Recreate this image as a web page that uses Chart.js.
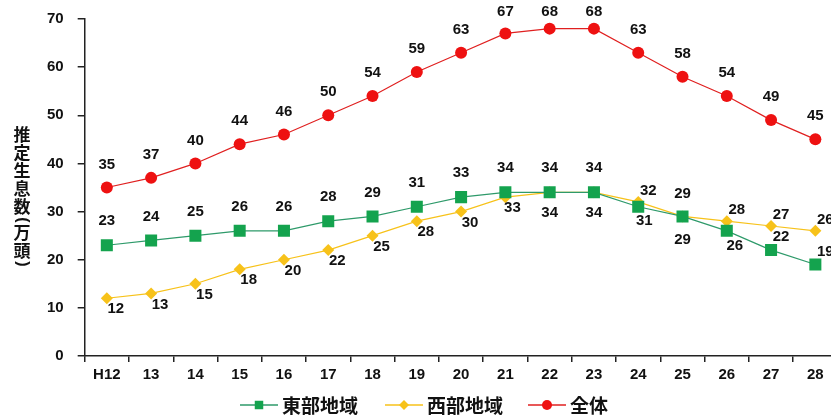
<!DOCTYPE html>
<html>
<head>
<meta charset="utf-8">
<script src="https://cdn.jsdelivr.net/npm/chart.js@4.4.1/dist/chart.umd.min.js"></script>
<style>
  html, body { margin: 0; padding: 0; background: #fff; overflow: hidden; }
  canvas { display: block; }
</style>
</head>
<body>
<canvas id="c" width="846" height="416"></canvas>
<script>
// Years (Heisei) on the horizontal axis
const years = ['H12','13','14','15','16','17','18','19','20','21','22','23','24','25','26','27','28'];
// Estimated population (10,000 head)
const eastRegion = [23,24,25,26,26,28,29,31,33,34,34,34,31,29,26,22,19];
const westRegion = [12,13,15,18,20,22,25,28,30,33,34,34,32,29,28,27,26];
const total      = [35,37,40,44,46,50,54,59,63,67,68,68,63,58,54,49,45];
const seriesNames = ['東部地域','西部地域','全体'];
const yTitle = '推定生息数(万頭)';

const GREEN = '#14a34e', YELLOW = '#f7c21a', RED = '#ee1111';
const labelFont = 'bold 15px "Liberation Sans", Arial, sans-serif';

// Where each value label sits relative to its marker
function labelOffset(di, i) {
  if (di === 2) return [0, -23];
  if (di === 0) {
    if (i <= 11) return [0, -24];
    if (i === 12) return [6, 14];
    if (i === 13) return [0, 23];
    if (i === 14) return [8, 15];
    return [10, -13];
  }
  // west
  if (i <= 8) return [9, 11];
  if (i === 9) return [7, 11];
  if (i <= 11) return [0, 21];
  if (i === 13) return [0, -23];
  return [10, -11];
}

const valueLabels = {
  id: 'valueLabels',
  afterDatasetsDraw(chart) {
    const ctx = chart.ctx;
    ctx.save();
    ctx.font = labelFont;
    ctx.fillStyle = '#111';
    ctx.textAlign = 'center';
    ctx.textBaseline = 'middle';
    chart.data.datasets.forEach((ds, di) => {
      const meta = chart.getDatasetMeta(di);
      meta.data.forEach((pt, i) => {
        const [dx, dy] = labelOffset(di, i);
        // keep labels inside the top edge of the canvas
        const ly = Math.max(pt.y + dy, 12);
        ctx.fillText(String(ds.data[i]), pt.x + dx, ly);
      });
    });
    ctx.restore();
  }
};

// Upright vertical axis title and line+marker legend
const decorations = {
  id: 'decorations',
  afterDraw(chart) {
    const ctx = chart.ctx;
    ctx.save();
    ctx.fillStyle = '#111';
    ctx.font = 'bold 17px "Noto Sans CJK JP", sans-serif';
    ctx.textAlign = 'center';
    ctx.textBaseline = 'middle';
    let y = 135;
    Array.from(yTitle).forEach((ch, k, arr) => {
      const paren = ch === '(' || ch === ')';
      if (paren) {
        // brackets turn a quarter so they open along the column
        ctx.save();
        ctx.translate(22, y);
        ctx.rotate(Math.PI / 2);
        ctx.font = 'bold 16px "Liberation Sans", Arial, sans-serif';
        ctx.fillText(ch, 0, 0);
        ctx.restore();
      } else {
        ctx.fillText(ch, 22, y);
      }
      const next = arr[k + 1];
      const small = paren || next === '(' || next === ')';
      y += small ? 13 : 18;
    });

    const items = [
      { name: seriesNames[0], color: GREEN, line: '#2e9a6a', shape: 'rect', r: 6, x: 240 },
      { name: seriesNames[1], color: YELLOW, line: YELLOW, shape: 'rectRot', r: 5, x: 385 },
      { name: seriesNames[2], color: RED, line: '#e02020', shape: 'circle', r: 5, x: 528 }
    ];
    const ly = 405;
    ctx.font = 'bold 19px "Noto Sans CJK JP", sans-serif';
    ctx.textAlign = 'left';
    items.forEach(it => {
      ctx.strokeStyle = it.line;
      ctx.lineWidth = 1.5;
      ctx.beginPath();
      ctx.moveTo(it.x, ly);
      ctx.lineTo(it.x + 38, ly);
      ctx.stroke();
      ctx.fillStyle = it.color;
      ctx.strokeStyle = it.color;
      Chart.helpers.drawPoint(ctx, { pointStyle: it.shape, radius: it.r, borderWidth: 0 }, it.x + 19, ly);
      ctx.fillStyle = '#111';
      ctx.fillText(it.name, it.x + 42, ly + 1);
    });
    ctx.restore();
  }
};

new Chart(document.getElementById('c'), {
  type: 'line',
  data: {
    labels: years,
    datasets: [
      { label: seriesNames[0], data: eastRegion, borderColor: '#2e9a6a', backgroundColor: GREEN,
        borderWidth: 1.2, pointStyle: 'rect', pointRadius: 8.5, pointBorderWidth: 0, tension: 0 },
      { label: seriesNames[1], data: westRegion, borderColor: YELLOW, backgroundColor: YELLOW,
        borderWidth: 1.2, pointStyle: 'rectRot', pointRadius: 6, pointBorderWidth: 0, tension: 0 },
      { label: seriesNames[2], data: total, borderColor: '#e02020', backgroundColor: RED,
        borderWidth: 1.2, pointStyle: 'circle', pointRadius: 6, pointBorderWidth: 0, tension: 0 }
    ]
  },
  options: {
    responsive: false,
    maintainAspectRatio: false,
    animation: false,
    devicePixelRatio: 1,
    layout: { padding: { left: 33, top: 19, right: 0, bottom: 28 } },
    plugins: { legend: { display: false }, tooltip: { enabled: false } },
    scales: {
      x: {
        offset: true,
        grid: { display: true, offset: true, drawOnChartArea: false, drawTicks: true, tickLength: 6, color: '#222', lineWidth: 1.5 },
        border: { display: true, color: '#222', width: 1.5 },
        ticks: { color: '#111', font: { family: '"Liberation Sans", Arial, sans-serif', size: 15, weight: 'bold' }, padding: 4, maxRotation: 0, autoSkip: false }
      },
      y: {
        min: 0, max: 70,
        afterFit(scale) { scale.paddingTop = 0; },
        grid: { display: true, drawOnChartArea: false, drawTicks: true, tickLength: 7, color: '#222', lineWidth: 1.5 },
        border: { display: true, color: '#222', width: 1.5 },
        ticks: { stepSize: 10, color: '#111', font: { family: '"Liberation Sans", Arial, sans-serif', size: 15, weight: 'bold' }, padding: 14 }
      }
    }
  },
  plugins: [valueLabels, decorations]
});
</script>
</body>
</html>
